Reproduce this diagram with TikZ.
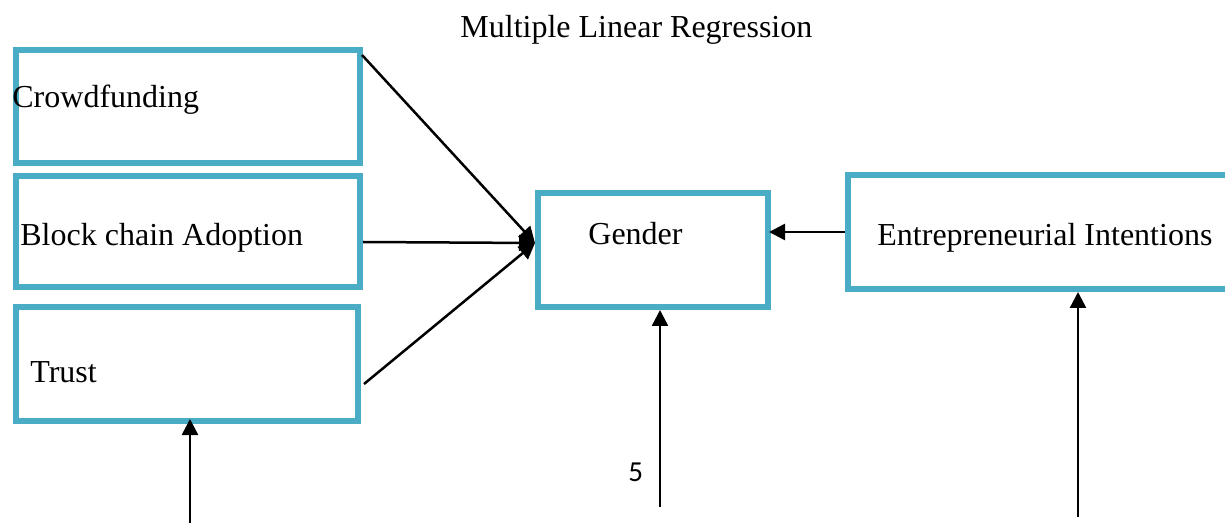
\documentclass[tikz,border=0pt]{standalone}
\usepackage{fontspec}
\setmainfont{Liberation Serif}
\newfontfamily\numfont{Carlito}
\usetikzlibrary{arrows.meta,calc}
\definecolor{boxc}{RGB}{75,172,198}
\begin{document}
\begin{tikzpicture}[x=0.5pt,y=-0.5pt,
  box/.style={draw=boxc,line width=3pt,rectangle,inner sep=0pt,fill=white},
  lbl/.style={anchor=base west,inner sep=0pt,font=\fontsize{16}{19}\selectfont},
  conn/.style={line width=1.25pt,-{Triangle[width=8pt,length=8pt]}}]
\useasboundingbox (0,0) rectangle (1225,523);
\clip (0,0) rectangle (1225,523);
% boxes
\node[box,minimum width=172pt,minimum height=56.5pt] (cf) at (188,106.5) {};
\node[box,minimum width=172pt,minimum height=55.5pt] (bc) at (188,231.5) {};
\node[box,minimum width=171pt,minimum height=57pt] (tr) at (187,364) {};
\node[box,minimum width=115pt,minimum height=57pt] (g) at (653,250) {};
\node[box,minimum width=196pt,minimum height=57pt] (ei) at (1044,232) {};
% texts
\node[lbl] (title) at (460,38) {Multiple Linear Regression};
\node[lbl] (tcf) at (12,108) {Crowdfunding};
\node[lbl] (tbc) at (20,246) {Block chain Adoption};
\node[lbl] (ttr) at (30,383) {Trust};
\node[lbl] (tg) at (588,245) {Gender};
\node[lbl] (tei) at (877,246) {Entrepreneurial Intentions};
\node[anchor=base west,inner sep=0pt,font=\numfont\fontsize{14.5}{17}\selectfont] (five) at (628,481) {5};
% connector end points
\coordinate (gin) at ($(g.west)+(0,-7)$);
\coordinate (trs) at (190,523);
\coordinate (gs) at (660,507);
\coordinate (eis) at (1078,517);
% connectors
\draw[conn] ($(cf.north east)+(-1,8)$) -- (gin);
\draw[conn] ($(bc.east)+(0,10.5)$) -- (gin);
\draw[conn] ($(tr.east)+(3,20)$) -- (gin);
\draw[conn] (ei.west) -- ($(g.east)+(-2,-18)$);
\draw[conn] (trs) -- ($(tr.south)+(3,-5)$);
\draw[conn] (gs) -- ($(g.south)+(7,0)$);
\draw[conn] (eis) -- ($(ei.south)+(34,0)$);
\end{tikzpicture}
\end{document}
